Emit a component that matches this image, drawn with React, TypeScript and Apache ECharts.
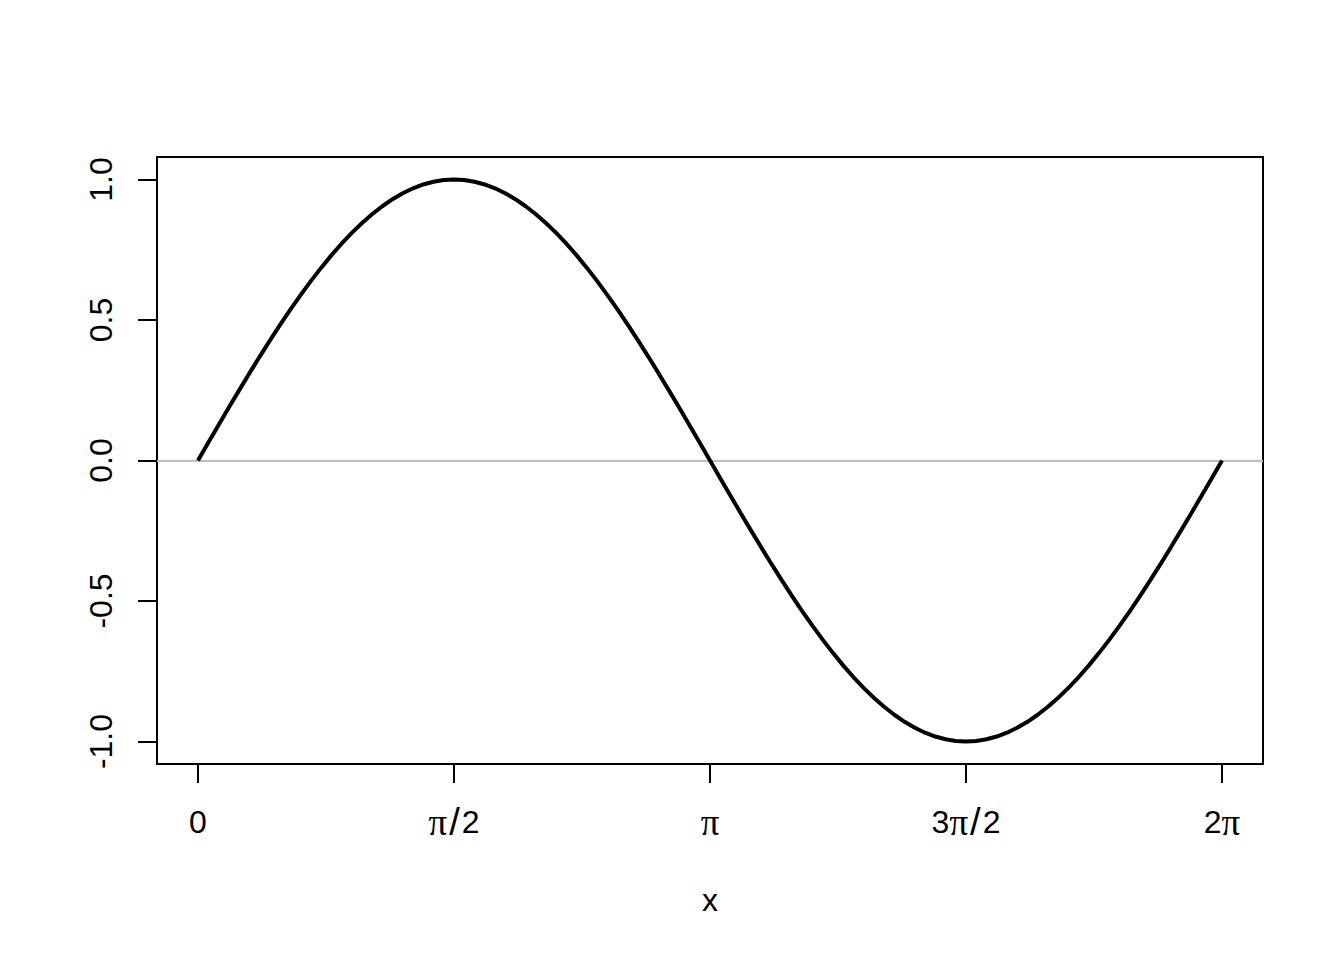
import React, { useEffect, useRef } from "react";
import * as echarts from "echarts";

// sample index (0..100 spans 0..2π) and sin values
const sinValues: number[] = [
  0, 0.0628, 0.1253, 0.1874, 0.2487, 0.309, 0.3681, 0.4258, 0.4818, 0.5358,
  0.5878, 0.6374, 0.6845, 0.729, 0.7705, 0.809, 0.8443, 0.8763, 0.9048, 0.9298,
  0.9511, 0.9686, 0.9823, 0.9921, 0.998, 1.0,
  0.998, 0.9921, 0.9823, 0.9686, 0.9511, 0.9298, 0.9048, 0.8763, 0.8443, 0.809,
  0.7705, 0.729, 0.6845, 0.6374, 0.5878, 0.5358, 0.4818, 0.4258, 0.3681, 0.309,
  0.2487, 0.1874, 0.1253, 0.0628, 0,
  -0.0628, -0.1253, -0.1874, -0.2487, -0.309, -0.3681, -0.4258, -0.4818, -0.5358,
  -0.5878, -0.6374, -0.6845, -0.729, -0.7705, -0.809, -0.8443, -0.8763, -0.9048,
  -0.9298, -0.9511, -0.9686, -0.9823, -0.9921, -0.998, -1.0,
  -0.998, -0.9921, -0.9823, -0.9686, -0.9511, -0.9298, -0.9048, -0.8763, -0.8443,
  -0.809, -0.7705, -0.729, -0.6845, -0.6374, -0.5878, -0.5358, -0.4818, -0.4258,
  -0.3681, -0.309, -0.2487, -0.1874, -0.1253, -0.0628, 0,
];

const xTickPositions: number[] = [0, 25, 50, 75, 100];
const xTickLabels: string[] = ["0", "π/2", "π", "3π/2", "2π"];
const yTicks: number[] = [-1, -0.5, 0, 0.5, 1];
const xTitle = "x";

const FONT = "'Liberation Sans', Arial, sans-serif";
const SERIF = "'Liberation Serif', 'DejaVu Serif', serif";

// turn "3π/2" into rich-text pieces (π in a serif face, tall slash)
function richLabel(s: string): string {
  return s
    .split("")
    .map((ch) => (ch === "π" ? "{p|π}" : ch === "/" ? "{s|/}" : `{n|${ch}}`))
    .join("");
}

export default function App() {
  const ref = useRef<HTMLDivElement>(null);
  useEffect(() => {
    if (!ref.current) return;
    const chart = echarts.init(ref.current, null, { renderer: "svg" });
    const data = sinValues.map((v, i) => [i, v]);
    chart.setOption({
      animation: false,
      backgroundColor: "#ffffff",
      grid: {
        left: 157,
        right: 81,
        top: 157,
        bottom: 196,
        show: true,
        borderColor: "#000000",
        borderWidth: 2,
        backgroundColor: "transparent",
      },
      xAxis: {
        type: "value",
        min: -4,
        max: 104,
        position: "bottom",
        name: xTitle,
        nameLocation: "middle",
        nameGap: 120,
        nameTextStyle: { fontFamily: FONT, fontSize: 32, color: "#000" },
        axisLine: { show: false, onZero: false },
        splitLine: { show: false },
        axisTick: {
          show: true,
          inside: false,
          length: 19,
          customValues: xTickPositions,
          lineStyle: { color: "#000", width: 2 },
        },
        axisLabel: {
          show: true,
          margin: 40,
          customValues: xTickPositions,
          fontFamily: FONT,
          fontSize: 32,
          lineHeight: 36,
          color: "#000",
          rich: {
            n: { fontFamily: FONT, fontSize: 32, lineHeight: 36, color: "#000" },
            p: { fontFamily: SERIF, fontSize: 37, lineHeight: 36, color: "#000" },
            s: {
              fontFamily: FONT,
              fontSize: 38,
              lineHeight: 36,
              color: "#000",
              padding: [0, 2, 0, 2],
            },
          },
          formatter: (v: number) => {
            const idx = xTickPositions.indexOf(Math.round(v));
            return idx >= 0 ? richLabel(xTickLabels[idx]) : "";
          },
        },
      },
      yAxis: {
        type: "value",
        min: -1.08,
        max: 1.08,
        position: "left",
        axisLine: { show: false, onZero: false },
        splitLine: { show: false },
        axisTick: {
          show: true,
          inside: false,
          length: 19,
          customValues: yTicks,
          lineStyle: { color: "#000", width: 2 },
        },
        axisLabel: {
          show: true,
          rotate: 90,
          margin: 40,
          customValues: yTicks,
          fontFamily: FONT,
          fontSize: 32,
          color: "#000",
          formatter: (v: number) => v.toFixed(1),
        },
      },
      series: [
        {
          type: "line",
          data,
          showSymbol: false,
          symbol: "none",
          smooth: false,
          lineStyle: { color: "#000000", width: 4 },
          z: 3,
          markLine: {
            silent: true,
            symbol: "none",
            label: { show: false },
            lineStyle: { color: "#bebebe", width: 2, type: "solid" },
            data: [{ yAxis: 0 }],
            z: 2,
          },
        },
      ],
    });
    return () => chart.dispose();
  }, []);
  return (
    <div
      ref={ref}
      style={{ position: "absolute", left: 0, top: 0, width: 1344, height: 960 }}
    />
  );
}
